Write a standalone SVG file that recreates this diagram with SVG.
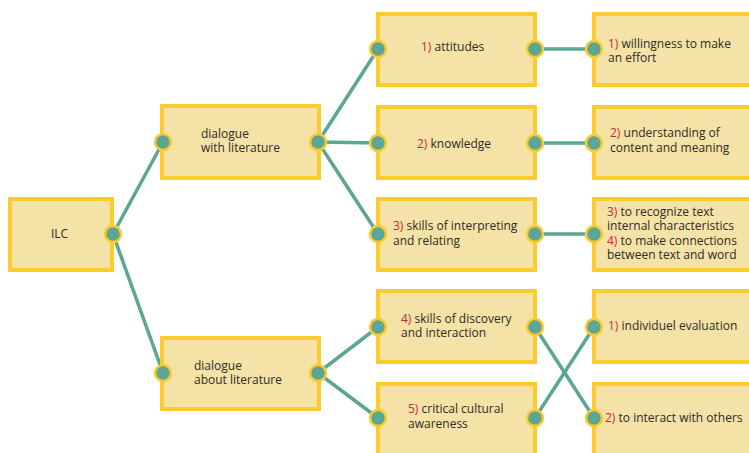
<svg xmlns="http://www.w3.org/2000/svg" width="749" height="453" viewBox="0 0 749 453">
  <style>
    .box { fill: #f5e2a6; stroke: #fdcb2b; stroke-width: 4; }
    .dot { fill: #5da594; stroke: #fdcb2b; stroke-width: 2.5; }
    .link { stroke: #5da594; stroke-width: 3.5; fill: none; stroke-linecap: round; }
    text { font-family: "Open Sans", "Noto Sans", "Liberation Sans", sans-serif; font-size: 12px; fill: #2e2b28; }
    .num { fill: #c8283c; }
  </style>
  <rect width="749" height="453" fill="#ffffff"/>

  <!-- connectors -->
  <g id="connectors">
    <line class="link" x1="113" y1="234" x2="163" y2="142"/>
    <line class="link" x1="113" y1="234" x2="163" y2="373"/>
    <line class="link" x1="318" y1="142" x2="378" y2="49"/>
    <line class="link" x1="318" y1="142" x2="378" y2="143"/>
    <line class="link" x1="318" y1="142" x2="378" y2="234"/>
    <line class="link" x1="318" y1="373" x2="378" y2="327"/>
    <line class="link" x1="318" y1="373" x2="378" y2="418"/>
    <line class="link" x1="535" y1="49" x2="594" y2="49"/>
    <line class="link" x1="535" y1="143" x2="594" y2="143"/>
    <line class="link" x1="535" y1="234" x2="594" y2="234"/>
    <line class="link" x1="535" y1="327" x2="594" y2="418"/>
    <line class="link" x1="535" y1="418" x2="594" y2="327"/>
  </g>

  <!-- root -->
  <g id="ilc">
    <rect class="box" x="10" y="199" width="102" height="71"/>
    <text x="51" y="238">ILC</text>
    <circle class="dot" cx="113" cy="234" r="8"/>
  </g>

  <!-- second level -->
  <g id="dialogue-with">
    <rect class="box" x="162" y="106" width="157" height="72"/>
    <text x="201" y="138">dialogue</text>
    <text x="201" y="152">with literature</text>
    <circle class="dot" cx="163" cy="142" r="8"/>
    <circle class="dot" cx="318" cy="142" r="8"/>
  </g>
  <g id="dialogue-about">
    <rect class="box" x="162" y="338" width="157" height="71"/>
    <text x="194" y="370">dialogue</text>
    <text x="194" y="384">about literature</text>
    <circle class="dot" cx="163" cy="373" r="8"/>
    <circle class="dot" cx="318" cy="373" r="8"/>
  </g>

  <!-- third level -->
  <g id="attitudes">
    <rect class="box" x="378" y="14" width="157" height="71"/>
    <text x="421" y="51"><tspan class="num">1)</tspan> attitudes</text>
    <circle class="dot" cx="378" cy="49" r="8"/>
    <circle class="dot" cx="535" cy="49" r="8"/>
  </g>
  <g id="knowledge">
    <rect class="box" x="378" y="107" width="157" height="71"/>
    <text x="417" y="148"><tspan class="num">2)</tspan> knowledge</text>
    <circle class="dot" cx="378" cy="143" r="8"/>
    <circle class="dot" cx="535" cy="143" r="8"/>
  </g>
  <g id="interpreting">
    <rect class="box" x="378" y="199" width="157" height="71"/>
    <text x="393" y="230"><tspan class="num">3)</tspan> skills of interpreting</text>
    <text x="393" y="245">and relating</text>
    <circle class="dot" cx="378" cy="234" r="8"/>
    <circle class="dot" cx="535" cy="234" r="8"/>
  </g>
  <g id="discovery">
    <rect class="box" x="378" y="291" width="157" height="71"/>
    <text x="401" y="323"><tspan class="num">4)</tspan> skills of discovery</text>
    <text x="401" y="337">and interaction</text>
    <circle class="dot" cx="378" cy="327" r="8"/>
    <circle class="dot" cx="535" cy="327" r="8"/>
  </g>
  <g id="awareness">
    <rect class="box" x="378" y="384" width="157" height="71"/>
    <text x="408" y="413"><tspan class="num">5)</tspan> critical cultural</text>
    <text x="408" y="428">awareness</text>
    <circle class="dot" cx="378" cy="418" r="8"/>
    <circle class="dot" cx="535" cy="418" r="8"/>
  </g>

  <!-- fourth level -->
  <g id="willingness">
    <rect class="box" x="594" y="14" width="170" height="71"/>
    <text x="608" y="48"><tspan class="num">1)</tspan> willingness to make</text>
    <text x="608" y="62">an effort</text>
    <circle class="dot" cx="594" cy="49" r="8"/>
  </g>
  <g id="understanding">
    <rect class="box" x="594" y="107" width="170" height="71"/>
    <text x="610" y="137"><tspan class="num">2)</tspan> understanding of</text>
    <text x="610" y="152">content and meaning</text>
    <circle class="dot" cx="594" cy="143" r="8"/>
  </g>
  <g id="recognize">
    <rect class="box" x="594" y="199" width="170" height="71"/>
    <text x="607" y="216"><tspan class="num">3)</tspan> to recognize text</text>
    <text x="607" y="230">internal characteristics</text>
    <text x="607" y="245"><tspan class="num">4)</tspan> to make connections</text>
    <text x="607" y="259">between text and word</text>
    <circle class="dot" cx="594" cy="234" r="8"/>
  </g>
  <g id="evaluation">
    <rect class="box" x="594" y="291" width="170" height="71"/>
    <text x="608" y="330"><tspan class="num">1)</tspan> individuel evaluation</text>
    <circle class="dot" cx="594" cy="327" r="8"/>
  </g>
  <g id="interact">
    <rect class="box" x="594" y="384" width="170" height="71"/>
    <text x="605" y="422"><tspan class="num">2)</tspan> to interact with others</text>
    <circle class="dot" cx="594" cy="418" r="8"/>
  </g>
</svg>
